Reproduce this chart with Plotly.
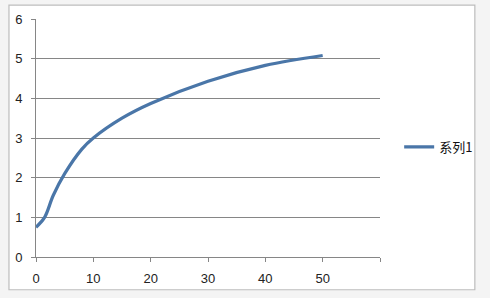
import plotly.graph_objects as go

# Data
x_vals = [0, 1.5, 3, 5, 8, 10, 15, 20, 30, 40, 50]
y_vals = [0.75, 1.0, 1.55, 2.1, 2.72, 3.0, 3.5, 3.87, 4.43, 4.83, 5.08]
series_name = "系列1"
x_ticks = [0, 10, 20, 30, 40, 50, 60]
x_tick_text = ["0", "10", "20", "30", "40", "50", ""]
y_ticks = [0, 1, 2, 3, 4, 5, 6]

fig = go.Figure()
fig.add_trace(go.Scatter(
    x=x_vals, y=y_vals, mode="lines", name=series_name,
    line=dict(color="#4A76A8", width=3.2, shape="spline", smoothing=1.0),
    showlegend=True,
))

L, R, T, B = 35.5, 104.5, 19, 39
W, H = 490, 298
pw, ph = W - L - R, H - T - B

def px_x(p):
    return (p - L) / pw

def px_y(p):
    return (H - B - p) / ph

fig.add_shape(type="rect", xref="paper", yref="paper",
              x0=px_x(8), x1=px_x(482), y0=px_y(292), y1=px_y(5),
              line=dict(color="#BDBDBD", width=1.2), fillcolor="white", layer="below")

font = dict(family="Liberation Sans, Arial, sans-serif", size=13, color="#222222")

fig.update_layout(
    width=W, height=H,
    margin=dict(l=L, r=R, t=T, b=B, pad=0),
    paper_bgcolor="#F4F4F4",
    plot_bgcolor="rgba(0,0,0,0)",
    font=font,
    xaxis=dict(range=[0, 60], tickvals=x_ticks, ticktext=x_tick_text,
               showgrid=False, zeroline=False, showline=True, linecolor="#868686", linewidth=1,
               ticks="outside", ticklen=4, tickcolor="#868686", tickfont=font, fixedrange=True,
               ticklabelstandoff=5),
    yaxis=dict(range=[0, 6], tickvals=y_ticks, showgrid=True, gridcolor="#868686", gridwidth=1,
               zeroline=False, showline=True, linecolor="#868686", linewidth=1,
               ticks="outside", ticklen=4, tickcolor="#868686", tickfont=font, fixedrange=True,
               ticklabelstandoff=6),
    legend=dict(x=px_x(405), y=px_y(148), xanchor="left", yanchor="middle",
                bgcolor="rgba(0,0,0,0)",
                font=dict(family="Noto Sans CJK SC, sans-serif", size=13, color="#111111")),
)

fig.write_html("out.html")
